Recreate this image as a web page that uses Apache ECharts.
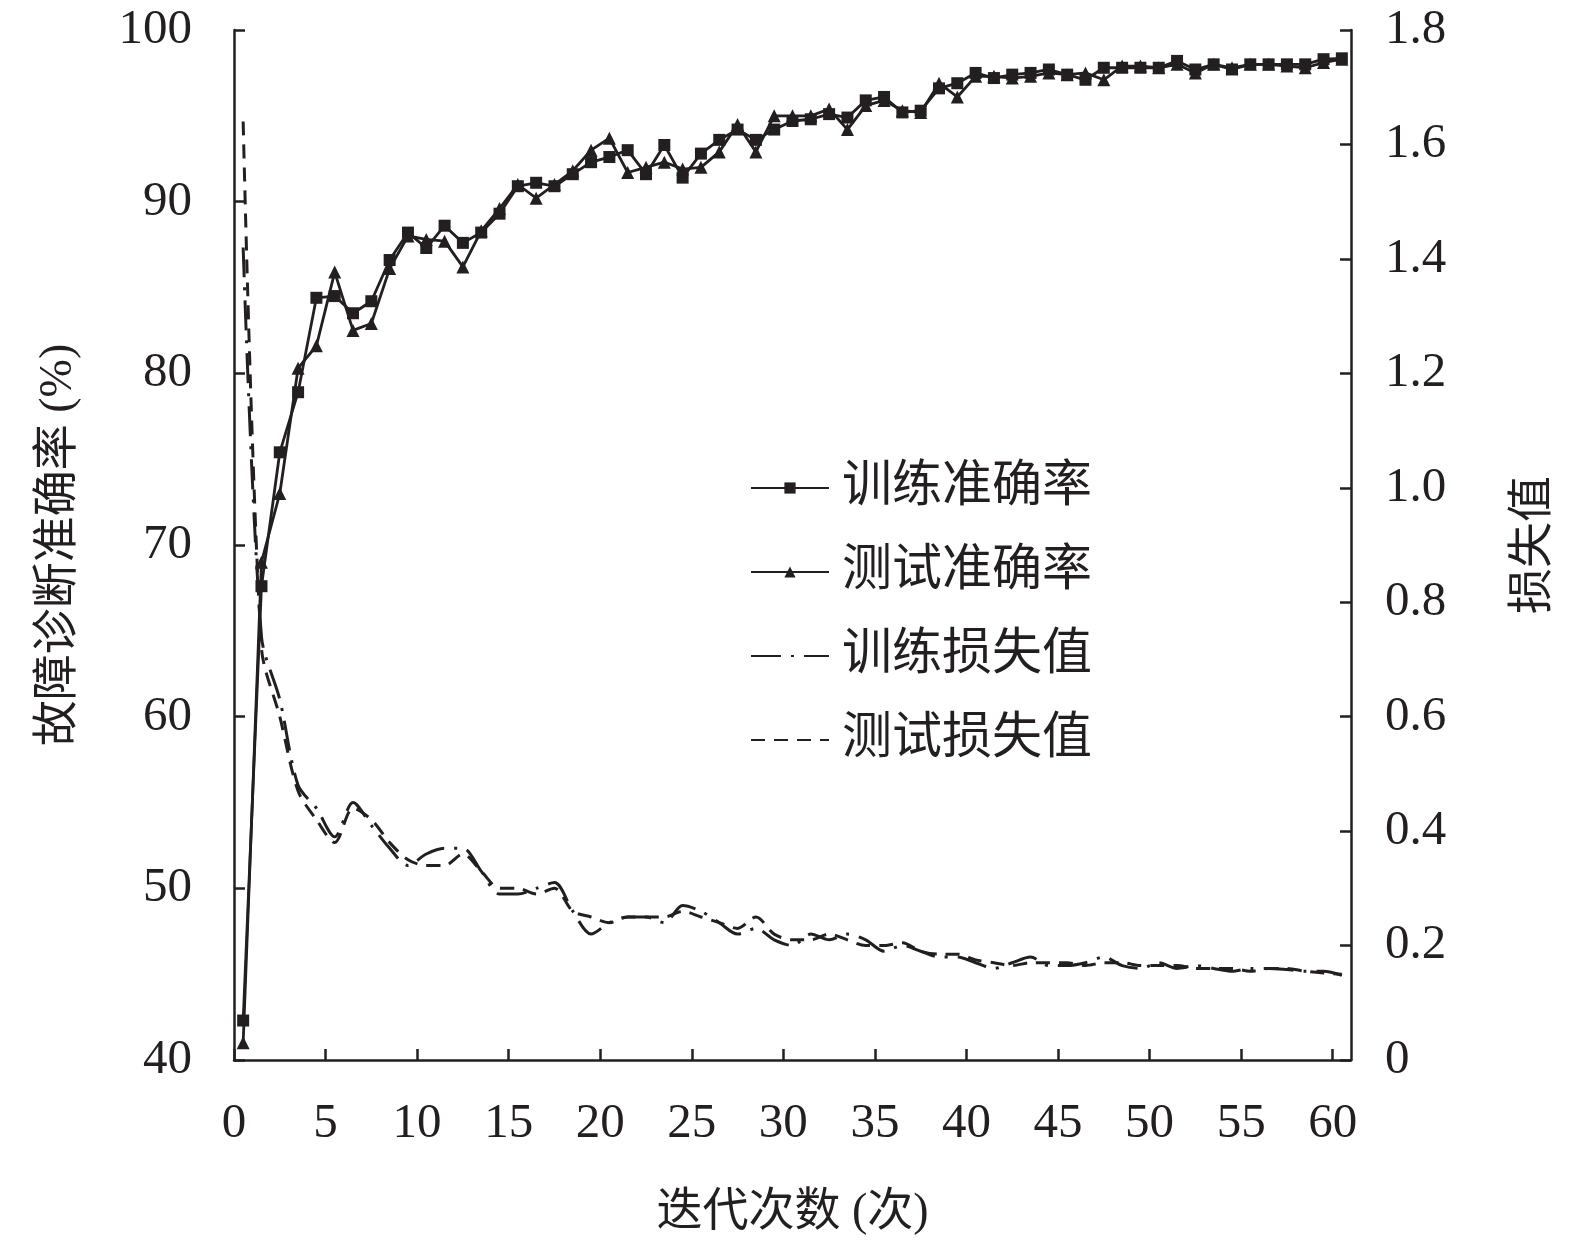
<!DOCTYPE html>
<html>
<head>
<meta charset="utf-8">
<script src="https://cdn.jsdelivr.net/npm/echarts@6/dist/echarts.min.js"></script>
<style>
  html, body { margin: 0; padding: 0; background: #fff; }
  #main { width: 1575px; height: 1246px; }
</style>
</head>
<body>
<div id="main"></div>
<script>
var ink = '#231f20';
var font = "'Liberation Serif', 'Times New Roman', 'Noto Sans CJK SC', serif";

// 迭代次数: points sit at the middle of each epoch
var epochs = [];
for (var i = 0; i < 61; i++) epochs.push(i + 0.5);

var xTicks = [0, 5, 10, 15, 20, 25, 30, 35, 40, 45, 50, 55, 60];

var trainAcc = [42.3, 67.6, 75.4, 78.9, 84.4, 84.5, 83.5, 84.2, 86.6, 88.2,
    87.3, 88.6, 87.6, 88.2, 89.3, 90.9, 91.1, 90.9, 91.6, 92.3,
    92.6, 93.0, 91.6, 93.3, 91.4, 92.8, 93.6, 94.2, 93.6, 94.2,
    94.7, 94.8, 95.1, 94.9, 95.9, 96.1, 95.2, 95.3, 96.6, 96.9,
    97.5, 97.2, 97.4, 97.5, 97.7, 97.4, 97.1, 97.8, 97.8, 97.8,
    97.8, 98.2, 97.7, 98.0, 97.7, 98.0, 98.0, 98.0, 98.0, 98.3, 98.35];

var testAcc = [41.0, 69.0, 73.0, 80.3, 81.6, 85.9, 82.5, 82.9, 86.1, 88.0,
    87.8, 87.7, 86.2, 88.3, 89.6, 91.0, 90.2, 91.0, 91.8, 93.0,
    93.7, 91.7, 92.0, 92.3, 91.9, 92.0, 92.9, 94.5, 92.9, 95.0,
    95.0, 95.0, 95.4, 94.2, 95.6, 95.9, 95.3, 95.2, 96.9, 96.1,
    97.3, 97.3, 97.2, 97.3, 97.5, 97.4, 97.5, 97.1, 97.9, 97.9,
    97.8, 98.0, 97.5, 98.0, 97.8, 98.0, 98.0, 97.9, 97.8, 98.1, 98.3];

var trainLoss = [1.42, 0.74, 0.63, 0.48, 0.44, 0.39, 0.45, 0.41, 0.37, 0.34,
    0.36, 0.37, 0.37, 0.33, 0.29, 0.29, 0.30, 0.31, 0.26, 0.22,
    0.24, 0.25, 0.25, 0.24, 0.27, 0.26, 0.24, 0.22, 0.23, 0.21,
    0.20, 0.22, 0.21, 0.22, 0.21, 0.19, 0.20, 0.19, 0.18, 0.18,
    0.17, 0.16, 0.17, 0.18, 0.165, 0.165, 0.17, 0.18, 0.165, 0.16,
    0.17, 0.16, 0.165, 0.16, 0.155, 0.16, 0.16, 0.158, 0.155, 0.155, 0.148];

var testLoss = [1.64, 0.72, 0.60, 0.47, 0.42, 0.38, 0.44, 0.42, 0.38, 0.35,
    0.34, 0.34, 0.36, 0.33, 0.30, 0.30, 0.29, 0.30, 0.26, 0.25,
    0.24, 0.25, 0.25, 0.25, 0.26, 0.25, 0.24, 0.23, 0.25, 0.22,
    0.21, 0.21, 0.22, 0.21, 0.20, 0.20, 0.205, 0.19, 0.185, 0.185,
    0.175, 0.17, 0.165, 0.17, 0.17, 0.17, 0.165, 0.17, 0.17, 0.165,
    0.165, 0.165, 0.16, 0.16, 0.16, 0.155, 0.16, 0.16, 0.155, 0.152, 0.15];

var seriesNames = ['训练准确率', '测试准确率', '训练损失值', '测试损失值'];

function pairs(ys) {
    var out = [];
    for (var i = 0; i < ys.length; i++) out.push([epochs[i], ys[i]]);
    return out;
}

var chart = echarts.init(document.getElementById('main'));

var axisCommon = {
    axisLine: { show: true, lineStyle: { color: ink, width: 2.5 } },
    axisTick: { show: true, inside: true, length: 11, lineStyle: { color: ink, width: 2.5 } },
    splitLine: { show: false },
    axisLabel: { color: ink, fontFamily: font, fontSize: 49 },
    nameTextStyle: { color: ink, fontFamily: font, fontSize: 46 }
};

var option = {
    backgroundColor: '#fff',
    animation: false,
    grid: { left: 234, right: 224, top: 30, bottom: 186 },
    legend: {
        data: [
            { name: seriesNames[0] },
            { name: seriesNames[1] },
            { name: seriesNames[2], itemStyle: { opacity: 0 } },
            { name: seriesNames[3], itemStyle: { opacity: 0 } }
        ],
        orient: 'vertical',
        left: 745,
        top: 458,
        itemWidth: 78,
        itemHeight: 14,
        itemGap: 34,
        textStyle: { color: ink, fontFamily: font, fontSize: 50, padding: [0, 0, 0, 8] }
    },
    xAxis: Object.assign({}, axisCommon, {
        type: 'value',
        min: 0,
        max: 61,
        name: '迭代次数 (次)',
        nameLocation: 'middle',
        nameGap: 130,
        axisLabel: Object.assign({}, axisCommon.axisLabel, { margin: 40, customValues: xTicks }),
        axisTick: Object.assign({}, axisCommon.axisTick, { customValues: xTicks })
    }),
    yAxis: [
        Object.assign({}, axisCommon, {
            type: 'value',
            min: 40,
            max: 100,
            interval: 10,
            name: '故障诊断准确率 (%)',
            nameLocation: 'middle',
            nameRotate: 90,
            nameGap: 152,
            axisLabel: Object.assign({}, axisCommon.axisLabel, { margin: 42 })
        }),
        Object.assign({}, axisCommon, {
            type: 'value',
            position: 'right',
            min: 0,
            max: 1.8,
            interval: 0.2,
            name: '损失值',
            nameLocation: 'middle',
            nameRotate: 90,
            nameGap: 160,
            axisLabel: Object.assign({}, axisCommon.axisLabel, {
                margin: 34,
                formatter: function (v) { return v === 0 ? '0' : v.toFixed(1); }
            })
        })
    ],
    series: [
        {
            name: seriesNames[0],
            type: 'line',
            yAxisIndex: 0,
            data: pairs(trainAcc),
            symbol: 'rect',
            symbolSize: 12,
            itemStyle: { color: ink },
            lineStyle: { color: ink, width: 2.8 },
            z: 4
        },
        {
            name: seriesNames[1],
            type: 'line',
            yAxisIndex: 0,
            data: pairs(testAcc),
            symbol: 'triangle',
            symbolSize: 13,
            itemStyle: { color: ink },
            lineStyle: { color: ink, width: 2.8 },
            z: 3
        },
        {
            name: seriesNames[2],
            type: 'line',
            yAxisIndex: 1,
            data: pairs(trainLoss),
            symbol: 'none',
            smooth: 0.3,
            itemStyle: { color: ink },
            lineStyle: { color: ink, width: 3, type: [30, 10, 3, 10] }
        },
        {
            name: seriesNames[3],
            type: 'line',
            yAxisIndex: 1,
            data: pairs(testLoss),
            symbol: 'none',
            smooth: 0.3,
            itemStyle: { color: ink },
            lineStyle: { color: ink, width: 3, type: [14, 9] }
        }
    ]
};

chart.setOption(option);
</script>
</body>
</html>
